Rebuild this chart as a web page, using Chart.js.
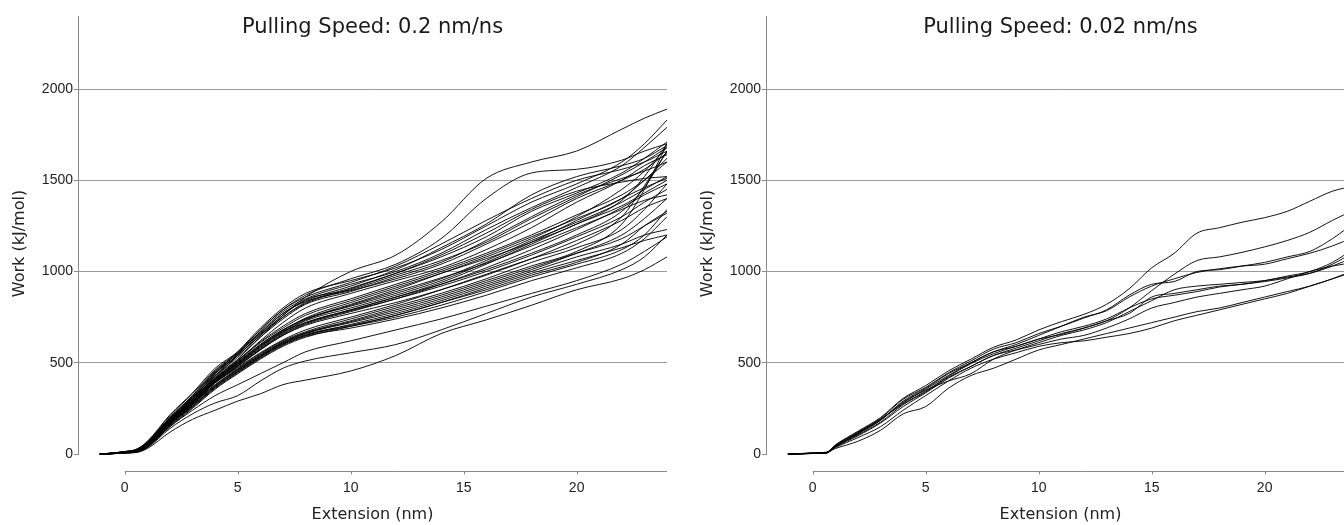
<!DOCTYPE html>
<html><head><meta charset="utf-8">
<script src="https://cdn.jsdelivr.net/npm/chart.js@4.4.1/dist/chart.umd.min.js"></script>
<style>
html,body{margin:0;padding:0;background:#fff;overflow:hidden;width:1344px;height:525px;}
canvas{position:absolute;top:0;}
#c1{left:0px} #c2{left:688px}
</style></head><body>
<canvas id="c1" width="680" height="525"></canvas>
<canvas id="c2" width="680" height="525"></canvas>
<script>
// ---- titles / ticks ----
const titleFast = 'Pulling Speed: 0.2 nm/ns';
const titleSlow = 'Pulling Speed: 0.02 nm/ns';
const xTitle = 'Extension (nm)';
const yTitle = 'Work (kJ/mol)';
const xTickValues = [0, 5, 10, 15, 20];
const yTickValues = [0, 500, 1000, 1500, 2000];

// ---- 0.2 nm/ns runs: extension (nm) ----
const xsFast = [-1.1, -0.5, 0, 0.5, 1, 2, 3, 4, 5, 6, 7, 8, 10, 12, 14, 16, 18, 20, 22, 23, 24];
// work (kJ/mol)
const f01 = [0,3,8,12,50,190,300,420,540,650,760,860,1000,1090,1270,1510,1600,1660,1780,1840,1890];
const f02 = [0,4,10,18,60,200,320,450,550,680,790,870,960,1040,1180,1400,1540,1560,1610,1660,1700];
const f03 = [0,5,12,20,55,185,310,440,560,690,800,880,950,1020,1120,1250,1380,1480,1600,1700,1830];
const f04 = [0,3,9,15,48,175,290,430,545,670,780,850,930,1000,1100,1230,1350,1460,1580,1680,1790];
const f05 = [0,4,11,22,65,210,330,460,555,660,770,840,920,1010,1130,1260,1420,1520,1580,1620,1690];
const f06 = [0,6,14,25,70,215,335,470,560,680,790,860,940,1030,1150,1280,1400,1500,1560,1600,1660];
const f07 = [0,2,7,14,45,170,280,410,520,640,750,830,910,990,1080,1190,1330,1430,1540,1620,1710];
const f08 = [0,3,10,18,52,180,300,440,540,655,760,845,900,980,1060,1160,1290,1410,1530,1600,1680];
const f09 = [0,5,13,24,62,200,320,455,550,665,770,835,895,960,1040,1150,1270,1400,1500,1560,1650];
const f10 = [0,4,9,16,50,190,305,430,530,640,740,820,890,970,1050,1170,1300,1420,1510,1550,1600];
const f11 = [0,3,8,12,40,165,275,400,510,620,720,800,880,950,1020,1120,1240,1380,1500,1580,1640];
const f12 = [0,5,12,20,58,195,315,445,540,650,750,825,905,990,1090,1210,1340,1440,1490,1510,1520];
const f13 = [0,4,10,18,50,180,290,410,500,600,680,740,810,880,960,1060,1170,1270,1380,1450,1520];
const f14 = [0,3,8,14,44,170,280,400,490,590,670,720,790,860,940,1040,1150,1260,1360,1430,1500];
const f15 = [0,5,12,22,60,195,300,420,510,610,690,760,840,920,1000,1090,1190,1290,1400,1500,1620];
const f16 = [0,4,11,20,56,185,295,415,505,600,680,740,820,900,990,1080,1180,1300,1450,1550,1680];
const f17 = [0,2,6,12,40,160,270,390,480,570,650,710,780,850,930,1020,1120,1230,1350,1420,1480];
const f18 = [0,3,9,16,48,175,285,405,495,585,665,730,800,870,950,1050,1160,1280,1400,1460,1510];
const f19 = [0,6,13,25,66,200,310,430,515,615,700,770,850,930,1010,1100,1200,1310,1420,1500,1600];
const f20 = [0,4,10,18,50,180,290,400,490,580,660,720,790,860,930,1010,1100,1200,1330,1460,1660];
const f21 = [0,3,8,15,46,172,282,395,485,575,655,715,785,850,920,1000,1090,1190,1300,1380,1450];
const f22 = [0,5,11,20,55,188,298,412,500,595,675,745,830,910,990,1070,1160,1260,1390,1520,1700];
const f23 = [0,4,9,17,50,178,288,405,495,590,670,735,815,890,965,1045,1140,1240,1340,1390,1420];
const f24 = [0,3,7,13,42,165,275,392,482,572,650,705,770,830,900,980,1070,1170,1280,1350,1400];
const f25 = [0,4,10,18,48,170,270,375,460,540,610,660,720,780,850,930,1010,1100,1200,1290,1400];
const f26 = [0,3,8,14,42,160,260,365,450,530,600,650,710,770,840,920,1000,1080,1150,1200,1230];
const f27 = [0,5,12,22,58,185,285,390,470,550,620,670,740,810,880,960,1050,1130,1230,1340,1480];
const f28 = [0,3,9,16,45,165,265,370,455,535,605,655,705,760,830,910,990,1060,1130,1170,1200];
const f29 = [0,4,11,20,52,178,278,380,465,545,615,665,730,800,870,950,1030,1110,1260,1450,1700];
const f30 = [0,2,6,12,38,150,250,355,440,520,590,640,700,760,830,900,980,1050,1150,1250,1330];
const f31 = [0,5,13,24,62,190,290,395,475,555,625,680,750,820,900,985,1070,1150,1300,1470,1660];
const f32 = [0,3,8,14,44,162,262,368,452,532,602,650,700,750,815,890,970,1040,1120,1200,1340];
const f33 = [0,4,10,18,50,175,275,378,462,540,610,662,725,790,860,940,1020,1100,1180,1250,1320];
const f34 = [0,3,7,13,40,155,255,360,445,525,595,645,690,740,800,870,950,1020,1100,1180,1300];
const f35 = [0,2,5,8,30,120,190,240,290,330,380,405,455,540,660,735,815,900,960,1010,1080];
const f36 = [0,3,6,10,35,140,220,280,320,400,470,510,555,600,680,770,860,930,1010,1080,1200];
const f37 = [0,3,7,12,40,150,240,320,380,440,500,560,620,680,740,810,880,950,1040,1110,1190];
const fastRuns = [f01,f02,f03,f04,f05,f06,f07,f08,f09,f10,f11,f12,f13,f14,f15,f16,f17,f18,f19,
  f20,f21,f22,f23,f24,f25,f26,f27,f28,f29,f30,f31,f32,f33,f34,f35,f36,f37];

// ---- 0.02 nm/ns runs: extension (nm) ----
const xsSlow = [-1.1,-0.5,0,0.6,1,2,3,4,5,6,7,8,9,10,11,12,13,14,15,16,17,18,19,20,21,22,23,24];
const s01 = [0,2,4,8,50,125,200,305,375,455,520,585,625,680,725,765,820,905,1020,1100,1210,1240,1270,1295,1330,1385,1440,1470];
const s02 = [0,3,5,6,40,110,185,290,360,440,500,560,590,630,655,690,730,800,895,985,1060,1080,1105,1135,1170,1215,1280,1340];
const s03 = [0,1,3,5,45,120,195,300,365,445,510,575,610,660,700,745,790,870,930,945,1000,1010,1030,1050,1080,1110,1180,1270];
const s04 = [0,2,6,10,48,115,190,280,355,430,500,560,600,650,700,750,785,860,920,960,995,1015,1030,1040,1070,1100,1140,1190];
const s05 = [0,2,4,7,42,105,175,270,340,420,480,540,580,620,660,690,730,770,860,880,900,920,930,950,975,1000,1050,1130];
const s06 = [0,3,5,8,46,118,190,275,345,425,495,550,590,630,670,700,740,800,850,870,890,915,930,945,965,990,1040,1110];
const s07 = [0,1,3,6,38,100,170,260,335,415,480,540,570,600,630,650,690,740,800,830,860,880,900,920,960,1000,1030,1050];
const s08 = [0,2,4,6,35,90,150,240,320,400,470,520,555,590,610,620,640,660,690,730,760,790,820,850,880,920,960,1010];
const s09 = [0,2,5,9,30,70,130,220,260,360,430,470,520,570,600,630,660,690,720,750,780,800,830,860,890,920,960,1000];
const s10 = [0,1,3,5,40,112,185,285,350,400,440,520,570,610,650,680,720,780,840,900,920,930,940,950,970,990,1030,1080];
const slowRuns = [s01,s02,s03,s04,s05,s06,s07,s08,s09,s10];

// ---- drawing ----
const frame = {
  id: 'frame',
  beforeDatasetsDraw(chart) {
    const {ctx, chartArea: a, scales: {x, y}} = chart;
    ctx.save();
    ctx.strokeStyle = '#8a8a8a';
    ctx.lineWidth = 1;
    const lx = Math.round(a.left) + 0.5;
    ctx.beginPath(); ctx.moveTo(lx, a.top); ctx.lineTo(lx, Math.round(y.getPixelForValue(0)) + 1); ctx.stroke();
    const by = Math.round(a.bottom) + 0.5;
    ctx.beginPath(); ctx.moveTo(x.getPixelForValue(0), by); ctx.lineTo(a.right, by); ctx.stroke();
    xTickValues.forEach(t => {
      const px = Math.round(x.getPixelForValue(t)) + 0.5;
      ctx.beginPath(); ctx.moveTo(px, by); ctx.lineTo(px, by + 3); ctx.stroke();
    });
    ctx.restore();
  },
  afterDraw(chart, args, opts) {
    const {ctx, chartArea: a} = chart;
    ctx.save();
    ctx.font = '21px "DejaVu Sans"';
    ctx.fillStyle = '#1a1a1a';
    ctx.textAlign = 'center';
    ctx.textBaseline = 'middle';
    ctx.fillText(opts.text, (a.left + a.right) / 2, 28);
    ctx.restore();
  }
};

function build(id, xs, runs, title) {
  const datasets = runs.map((vals, k) => ({
    label: 'run ' + (k + 1),
    data: vals.map((v, i) => ({x: xs[i], y: v})),
    borderColor: 'rgba(0,0,0,0.92)',
    borderWidth: 1,
    pointRadius: 0,
    fill: false,
    cubicInterpolationMode: 'monotone'
  }));
  new Chart(document.getElementById(id), {
    type: 'line',
    data: {datasets},
    options: {
      responsive: false,
      animation: false,
      devicePixelRatio: 1,
      layout: {padding: {top: 16, right: 13, left: 0, bottom: 0}},
      plugins: {legend: {display: false}, tooltip: {enabled: false}, frame: {text: title}},
      scales: {
        x: {
          type: 'linear', min: -2.07, max: 24,
          afterBuildTicks: s => { s.ticks = xTickValues.map(v => ({value: v})); },
          afterFit: s => { s.height = 54; },
          grid: {display: false, drawTicks: false},
          border: {display: false},
          ticks: {font: {family: 'Liberation Sans', size: 14}, color: '#222', padding: 9, maxRotation: 0,
                  callback: v => String(v)},
          title: {display: true, text: xTitle, font: {family: 'DejaVu Sans', size: 16}, color: '#222', padding: {top: 0, bottom: 1}}
        },
        y: {
          type: 'linear', min: -93, max: 2400,
          afterBuildTicks: s => { s.ticks = yTickValues.map(v => ({value: v})); },
          afterFit: s => { s.width = 78; },
          grid: {
            color: c => (c.tick && c.tick.value === 0) ? 'rgba(0,0,0,0)' : '#9a9a9a',
            tickColor: '#8a8a8a', tickLength: 4, drawTicks: true, lineWidth: 1
          },
          border: {display: false},
          ticks: {font: {family: 'Liberation Sans', size: 14}, color: '#222', padding: 1,
                  callback: v => String(v)},
          title: {display: true, text: yTitle, font: {family: 'DejaVu Sans', size: 16}, color: '#222', padding: {top: 10, bottom: 0}}
        }
      }
    },
    plugins: [frame]
  });
}

build('c1', xsFast, fastRuns, titleFast);
build('c2', xsSlow, slowRuns, titleSlow);
</script>
</body></html>
